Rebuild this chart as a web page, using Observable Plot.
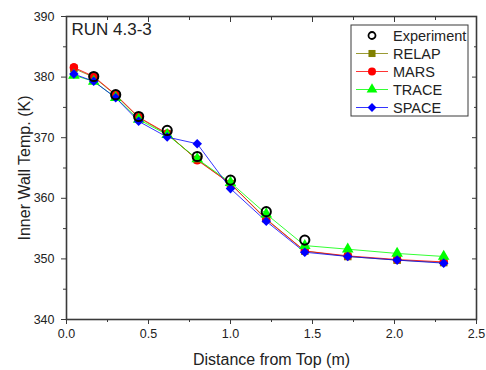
<!DOCTYPE html>
<html><head><meta charset="utf-8">
<script src="https://cdn.jsdelivr.net/npm/d3@7"></script>
<script src="https://cdn.jsdelivr.net/npm/@observablehq/plot@0.6"></script>
<style>body{margin:0;background:#fff;font-family:"Liberation Sans",Arial,sans-serif}</style>
</head><body><div id="chart"></div>
<script>
const distance = [0.045, 0.166, 0.30, 0.44, 0.614, 0.797, 1.0, 1.218, 1.453, 1.715, 2.016, 2.30];
const expDistance = [0.166, 0.30, 0.44, 0.614, 0.797, 1.0, 1.218, 1.453];
const experiment = [380.1, 377.1, 373.5, 371.2, 366.9, 363.0, 357.8, 353.1];
const relap = [381.4, 380.0, 377.0, 373.3, 370.6, 366.4, 362.4, 356.6, 351.3, 350.4, 349.8, 349.4];
const mars  = [381.6, 380.1, 377.1, 373.4, 370.7, 366.3, 362.4, 356.5, 351.3, 350.5, 349.9, 349.5];
const trace = [380.3, 379.3, 376.6, 373.0, 370.5, 366.5, 362.6, 357.4, 352.2, 351.6, 350.9, 350.4];
const space = [380.5, 379.3, 376.6, 372.7, 370.1, 369.0, 361.6, 356.2, 351.1, 350.4, 349.8, 349.3];
const seriesNames = ["RELAP", "MARS", "TRACE", "SPACE"];
const seriesValues = [relap, mars, trace, space];
const seriesColors = ["#808000", "#ff0000", "#00ff00", "#0000ff"];
const seriesSymbols = ["square", "circle", "triangle", "diamond2"];
const xTicks = [0, 0.5, 1.0, 1.5, 2.0, 2.5];
const xMinor = [0.25, 0.75, 1.25, 1.75, 2.25];
const yTicks = [340, 350, 360, 370, 380, 390];
const yMinor = [345, 355, 365, 375, 385];

const rows = seriesNames.flatMap((s, i) => distance.map((d, j) => ({series: s, x: d, y: seriesValues[i][j]})));
const expRows = expDistance.map((d, j) => ({x: d, y: experiment[j]}));

const axisColor = "#3a3a3a";
const plot = Plot.plot({
  width: 486, height: 370,
  marginLeft: 66, marginRight: 10, marginTop: 16, marginBottom: 51,
  style: {fontFamily: "'Liberation Sans', Arial, sans-serif", fontSize: "12px", color: "#222", background: "#fff"},
  x: {domain: [0, 2.5]},
  y: {domain: [340, 390]},
  color: {domain: seriesNames, range: seriesColors},
  symbol: {domain: seriesNames, range: seriesSymbols},
  marks: [
    Plot.axisX({ticks: xTicks, tickFormat: d3.format(".1f"), tickSize: 5, tickPadding: 5, stroke: axisColor, fontSize: 12.5, label: "Distance from Top (m)", labelAnchor: "center", labelArrow: "none", labelOffset: 45}),
    Plot.axisX({ticks: xMinor, tickFormat: () => "", tickSize: 3, stroke: axisColor, label: null}),
    Plot.axisX({anchor: "top", ticks: xTicks, tickFormat: () => "", tickSize: -5, stroke: axisColor, label: null}),
    Plot.axisX({anchor: "top", ticks: xMinor, tickFormat: () => "", tickSize: -3, stroke: axisColor, label: null}),
    Plot.axisY({ticks: yTicks, tickSize: 5, tickPadding: 7, stroke: axisColor, fontSize: 12.5, label: "Inner Wall Temp. (K)", labelAnchor: "center", labelArrow: "none", labelOffset: 48}),
    Plot.axisY({ticks: yMinor, tickFormat: () => "", tickSize: 3, stroke: axisColor, label: null}),
    Plot.axisY({anchor: "right", ticks: yTicks, tickFormat: () => "", tickSize: -5, stroke: axisColor, label: null}),
    Plot.axisY({anchor: "right", ticks: yMinor, tickFormat: () => "", tickSize: -3, stroke: axisColor, label: null}),
    Plot.frame({stroke: axisColor, strokeWidth: 1.6}),
    Plot.line(rows, {x: "x", y: "y", z: "series", stroke: "series", strokeWidth: 0.8}),
    Plot.dot(rows, {x: "x", y: "y", fill: "series", symbol: "series", r: 4.3}),
    Plot.dot(expRows, {x: "x", y: "y", stroke: "black", fill: "none", strokeWidth: 2, r: 4.6, symbol: "circle"}),
    Plot.text(["RUN 4.3-3"], {frameAnchor: "top-left", dx: 5, dy: 6, fontSize: 17, fill: "#222", textAnchor: "start", lineAnchor: "top"})
  ]
});
d3.select(plot).selectAll("g[aria-label$='axis label'] text").attr("font-size", 16).attr("fill", "#222");
// legend
const svg = d3.select(plot);
const lg = svg.append("g").attr("transform", "translate(351,25)").attr("text-anchor", "start");
lg.append("rect").attr("width", 117).attr("height", 91).attr("fill", "#fff").attr("stroke", axisColor).attr("stroke-width", 1);
const entries = [{name: "Experiment"}].concat(seriesNames.map((n, i) => ({name: n, color: seriesColors[i], symbol: seriesSymbols[i]})));
const symMap = {square: d3.symbolSquare, circle: d3.symbolCircle, triangle: d3.symbolTriangle, diamond2: d3.symbolDiamond2};
entries.forEach((e, i) => {
  const cy = 10.5 + i * 18;
  const g = lg.append("g").attr("transform", `translate(0,${cy})`);
  if (!e.color) {
    g.append("circle").attr("cx", 21).attr("r", 3.5).attr("fill", "none").attr("stroke", "black").attr("stroke-width", 1.8);
  } else {
    g.append("line").attr("x1", 5).attr("x2", 37).attr("stroke", e.color).attr("stroke-width", 0.8);
    g.append("path").attr("transform", "translate(21,0)").attr("d", d3.symbol(symMap[e.symbol], 50)()).attr("fill", e.color);
  }
  g.append("text").attr("x", 42).attr("dy", "0.35em").attr("font-size", 14.5).attr("fill", "#222").attr("text-anchor", "start").text(e.name);
});
document.getElementById("chart").appendChild(plot);
</script>
</body></html>
